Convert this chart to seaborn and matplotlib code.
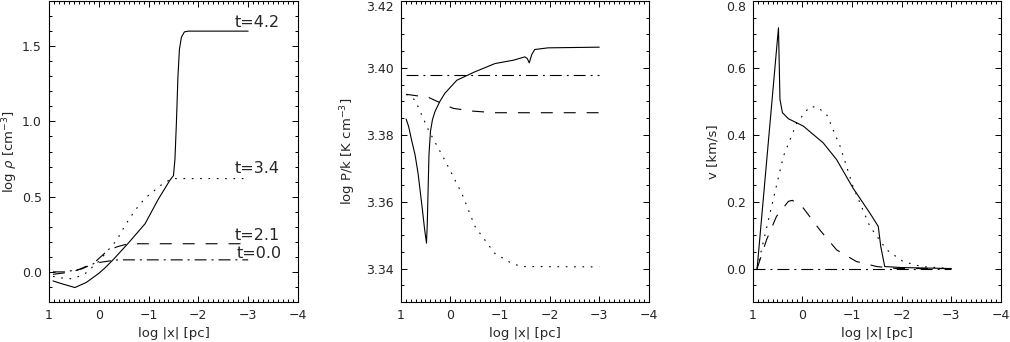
import numpy as np
import pandas as pd
import seaborn as sns
import matplotlib
matplotlib.use('Agg')
import matplotlib.pyplot as plt
from matplotlib.ticker import MultipleLocator, FormatStrFormatter

# --- density panel (log rho) ---
rho_x_t42 = [0.92, 0.75, 0.48, 0.25, 0.0, -0.12, -0.3, -0.59, -0.93, -1.19, -1.43, -1.5, -1.53, -1.56, -1.59, -1.62, -1.66, -1.72, -1.8, -3.0]
rho_t42 = [-0.06, -0.078, -0.104, -0.07, -0.01, 0.025, 0.085, 0.19, 0.32, 0.48, 0.61, 0.64, 0.75, 1.0, 1.3, 1.48, 1.56, 1.595, 1.60, 1.60]
rho_x_t34 = [0.92, 0.75, 0.54, 0.4, 0.27, 0.0, -0.22, -0.36, -0.53, -0.73, -0.93, -1.13, -1.3, -1.45, -1.5, -3.0]
rho_t34 = [-0.03, -0.04, -0.046, -0.03, -0.01, 0.07, 0.157, 0.21, 0.31, 0.41, 0.49, 0.544, 0.59, 0.615, 0.62, 0.62]
rho_x_t21 = [0.92, 0.65, 0.41, 0.08, -0.17, -0.37, -0.59, -3.0]
rho_t21 = [-0.016, -0.005, 0.013, 0.064, 0.14, 0.167, 0.187, 0.187]
rho_x_t00 = [0.92, 0.68, 0.34, 0.08, -0.2, -0.39, -3.0]
rho_t00 = [0.0, 0.0, 0.02, 0.058, 0.072, 0.08, 0.08]

# --- pressure panel (log P/k) ---
p_x_t42 = [0.89, 0.84, 0.78, 0.71, 0.65, 0.57, 0.52, 0.48, 0.465, 0.45, 0.43, 0.40, 0.36, 0.31, 0.21, 0.11, -0.13, -0.49, -0.9, -1.27, -1.5, -1.55, -1.59, -1.64, -1.7, -1.97, -3.0]
p_t42 = [3.3847, 3.3825, 3.3784, 3.3740, 3.3685, 3.3586, 3.3520, 3.3476, 3.3530, 3.3620, 3.3740, 3.3810, 3.3845, 3.3869, 3.3900, 3.3924, 3.3963, 3.3988, 3.4013, 3.4023, 3.4033, 3.4028, 3.4015, 3.4040, 3.4055, 3.4060, 3.4062]
p_x_t34 = [0.89, 0.71, 0.44, 0.11, -0.23, -0.5, -0.89, -1.23, -1.43, -3.0]
p_t34 = [3.3921, 3.3904, 3.3814, 3.3724, 3.3625, 3.3525, 3.3446, 3.3416, 3.3406, 3.3405]
p_x_t21 = [0.89, 0.44, 0.18, -0.06, -0.43, -0.9, -3.0]
p_t21 = [3.3921, 3.3912, 3.3894, 3.3879, 3.3871, 3.3866, 3.3866]
p_x_t00 = [0.89, -3.0]
p_t00 = [3.398, 3.398]

# --- velocity panel (v) ---
v_x_t42 = [0.91, 0.48, 0.45, 0.4, 0.28, -0.02, -0.42, -0.69, -1.02, -1.36, -1.53, -1.58, -1.66, -2.0, -3.0]
v_t42 = [0.0, 0.72, 0.506, 0.466, 0.448, 0.426, 0.376, 0.326, 0.241, 0.166, 0.126, 0.066, 0.006, 0.003, 0.0]
v_x_t34 = [0.91, 0.65, 0.38, 0.11, -0.15, -0.3, -0.49, -0.76, -1.02, -1.36, -1.7, -2.03, -2.4, -3.0]
v_t34 = [0.0, 0.166, 0.336, 0.436, 0.484, 0.483, 0.461, 0.366, 0.246, 0.126, 0.056, 0.021, 0.006, 0.0]
v_x_t21 = [0.91, 0.72, 0.52, 0.28, 0.2, -0.02, -0.35, -0.69, -1.09, -1.5, -1.9, -3.0]
v_t21 = [0.0, 0.086, 0.156, 0.201, 0.204, 0.181, 0.116, 0.056, 0.021, 0.006, 0.0, 0.0]
v_x_t00 = [1.0, -3.0]
v_t00 = [0.0, 0.0]

time_labels = ['t=4.2', 't=3.4', 't=2.1', 't=0.0']
label_pos = [(-2.72, 1.628), (-2.72, 0.66), (-2.72, 0.21), (-2.77, 0.093)]

sns.set_style('ticks')
plt.rcParams['font.family'] = ['DejaVu Sans']
plt.rcParams['lines.scale_dashes'] = False
plt.rcParams['axes.linewidth'] = 0.8

styles = ['-', (0, (1.2, 4.8)), (0, (8.6, 7.9)), (0, (8.6, 3.6, 1.4, 3.6))]

fig = plt.figure(figsize=(10.1, 3.42), dpi=100)
ax1 = fig.add_axes([0.0485, 0.117, 0.2465, 0.880])
ax2 = fig.add_axes([0.3967, 0.117, 0.2458, 0.880])
ax3 = fig.add_axes([0.7452, 0.117, 0.2458, 0.880])

panels = [
    (ax1, [(rho_x_t42, rho_t42), (rho_x_t34, rho_t34), (rho_x_t21, rho_t21), (rho_x_t00, rho_t00)]),
    (ax2, [(p_x_t42, p_t42), (p_x_t34, p_t34), (p_x_t21, p_t21), (p_x_t00, p_t00)]),
    (ax3, [(v_x_t42, v_t42), (v_x_t34, v_t34), (v_x_t21, v_t21), (v_x_t00, v_t00)]),
]
for ax, series in panels:
    for (xs, ys), ls in zip(series, styles):
        sns.lineplot(x=xs, y=ys, ax=ax, sort=False, estimator=None,
                     color='black', linewidth=0.8, linestyle=ls)
    ax.set_xlim(1, -4)
    ax.xaxis.set_major_locator(MultipleLocator(1))
    ax.xaxis.set_minor_locator(MultipleLocator(0.1))
    ax.tick_params(which='both', direction='in', top=True, right=True,
                   labelsize=9, width=0.7, color='black')
    ax.tick_params(which='major', length=4.5, pad=5)
    ax.tick_params(which='minor', length=2.3)
    ax.set_xlabel('log |x| [pc]', fontsize=9.5)
    for s in ax.spines.values():
        s.set_color('black')

ax1.set_ylim(-0.2, 1.8)
ax1.yaxis.set_major_locator(MultipleLocator(0.5))
ax1.yaxis.set_minor_locator(MultipleLocator(0.1))
ax1.yaxis.set_major_formatter(FormatStrFormatter('%.1f'))
ax1.set_ylabel(r'log $\rho$ [cm$^{-3}$]', fontsize=9.5)
ax1.yaxis.set_label_coords(-0.118, 0.5)
for lab, (tx, ty) in zip(time_labels, label_pos):
    ax1.text(tx, ty, lab, fontsize=11.5, ha='left', va='baseline')

ax2.set_ylim(3.33, 3.42)
ax2.yaxis.set_major_locator(MultipleLocator(0.02))
ax2.yaxis.set_minor_locator(MultipleLocator(0.005))
ax2.yaxis.set_major_formatter(FormatStrFormatter('%.2f'))
ax2.set_ylabel(r'log P/k [K cm$^{-3}$]', fontsize=9.5)
ax2.yaxis.set_label_coords(-0.172, 0.5)

ax3.set_ylim(-0.1, 0.8)
ax3.yaxis.set_major_locator(MultipleLocator(0.2))
ax3.yaxis.set_minor_locator(MultipleLocator(0.05))
ax3.yaxis.set_major_formatter(FormatStrFormatter('%.1f'))
ax3.set_ylabel('v [km/s]', fontsize=9.5)
ax3.yaxis.set_label_coords(-0.132, 0.5)

# the top tick labels sit just inside the figure edge, as in the original
fig.canvas.draw()
for ax in (ax2, ax3):
    top = ax.get_ylim()[1]
    for tick in ax.yaxis.get_major_ticks():
        if abs(tick.get_loc() - top) < 1e-6:
            tick.label1.set_va('top')

fig.savefig('out.png', dpi=100)
